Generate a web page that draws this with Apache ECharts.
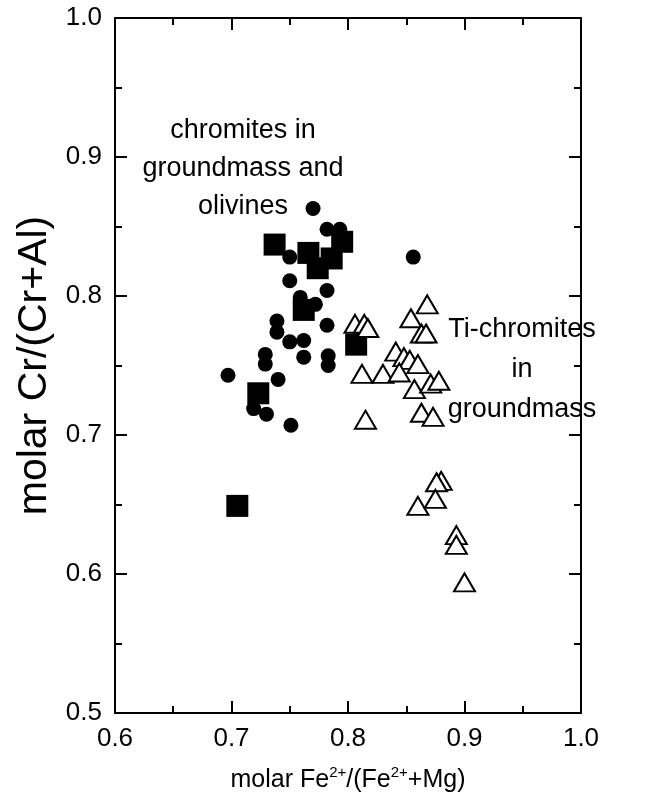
<!DOCTYPE html>
<html>
<head>
<meta charset="utf-8">
<script src="https://cdn.jsdelivr.net/npm/echarts@6/dist/echarts.min.js"></script>
<style>
  html, body { margin: 0; padding: 0; background: #fff; }
  #chart { width: 653px; height: 804px; }
</style>
</head>
<body>
<div id="chart"></div>
<script>
// Chromite compositions: molar Fe2+/(Fe2+ + Mg) vs molar Cr/(Cr + Al)
const circlePoints = [
  [0.770, 0.863], [0.782, 0.848], [0.793, 0.848], [0.750, 0.828],
  [0.750, 0.811], [0.782, 0.804], [0.759, 0.799], [0.772, 0.794],
  [0.739, 0.782], [0.782, 0.779], [0.739, 0.774], [0.750, 0.767],
  [0.762, 0.768], [0.729, 0.758], [0.729, 0.751], [0.762, 0.756],
  [0.783, 0.757], [0.783, 0.750], [0.697, 0.743], [0.740, 0.740],
  [0.719, 0.719], [0.730, 0.715], [0.751, 0.707], [0.856, 0.828]
];
const squarePoints = [
  [0.737, 0.837], [0.795, 0.839], [0.766, 0.831], [0.774, 0.820],
  [0.786, 0.827], [0.762, 0.790], [0.807, 0.765], [0.723, 0.730],
  [0.705, 0.649]
];
const trianglePoints = [
  [0.806, 0.780], [0.814, 0.780], [0.817, 0.777], [0.868, 0.794],
  [0.854, 0.784], [0.863, 0.773], [0.867, 0.773], [0.841, 0.760],
  [0.848, 0.756], [0.853, 0.754], [0.860, 0.751], [0.812, 0.744],
  [0.830, 0.744], [0.844, 0.745], [0.857, 0.733], [0.871, 0.737],
  [0.878, 0.739], [0.815, 0.711], [0.863, 0.716], [0.873, 0.713],
  [0.880, 0.667], [0.876, 0.666], [0.860, 0.649], [0.875, 0.654],
  [0.893, 0.628], [0.893, 0.621], [0.900, 0.594]
];
const xRange = [0.6, 1.0];
const yRange = [0.5, 1.0];
const tickStep = 0.1;

const FONT = '"Liberation Sans", Arial, Helvetica, sans-serif';
const black = '#000';

function frameAxis(position, range, withLabels) {
  return {
    type: 'value',
    position: position,
    min: range[0],
    max: range[1],
    interval: tickStep,
    axisLine: { show: true, onZero: false, lineStyle: { color: black, width: 2 } },
    axisTick: { show: true, inside: true, length: 12, lineStyle: { color: black, width: 2 } },
    minorTick: { show: true, splitNumber: 2, length: 7, lineStyle: { color: black, width: 2 } },
    splitLine: { show: false },
    minorSplitLine: { show: false },
    axisLabel: {
      show: withLabels,
      fontFamily: FONT,
      fontSize: 26,
      color: black,
      margin: 13,
      formatter: v => v.toFixed(1)
    }
  };
}

const xBottom = frameAxis('bottom', xRange, true);
xBottom.name = 'molar Fe{sup|2+}/(Fe{sup|2+}+Mg)';
xBottom.nameLocation = 'middle';
xBottom.nameGap = 52;
xBottom.nameTextStyle = {
  fontFamily: FONT, fontSize: 25, color: black, lineHeight: 30,
  rich: {
    sup: { fontFamily: FONT, fontSize: 15, color: black, lineHeight: 30, verticalAlign: 'top' }
  }
};
const xTop = frameAxis('top', xRange, false);

const yLeft = frameAxis('left', yRange, true);
yLeft.name = 'molar Cr/(Cr+Al)';
yLeft.nameLocation = 'middle';
yLeft.nameGap = 60;
yLeft.nameTextStyle = { fontFamily: FONT, fontSize: 41, color: black };
const yRight = frameAxis('right', yRange, false);

const chart = echarts.init(document.getElementById('chart'), null, { renderer: 'canvas' });
chart.setOption({
  backgroundColor: '#fff',
  animation: false,
  grid: { left: 115, right: 72, top: 18, bottom: 91, containLabel: false },
  xAxis: [xBottom, xTop],
  yAxis: [yLeft, yRight],
  graphic: [
    {
      type: 'text', x: 243, y: 169, z: 10,
      style: {
        text: 'chromites in\ngroundmass and\nolivines',
        font: '27px ' + FONT, fill: black,
        textAlign: 'center', textVerticalAlign: 'middle', lineHeight: 38
      }
    },
    {
      type: 'text', x: 522, y: 370, z: 10,
      style: {
        text: 'Ti-chromites\nin\ngroundmass',
        font: '27px ' + FONT, fill: black,
        textAlign: 'center', textVerticalAlign: 'middle', lineHeight: 40
      }
    }
  ],
  series: [
    {
      type: 'scatter', xAxisIndex: 0, yAxisIndex: 0,
      symbol: 'circle', symbolSize: 15,
      itemStyle: { color: black, opacity: 1 },
      data: circlePoints
    },
    {
      type: 'scatter', xAxisIndex: 0, yAxisIndex: 0,
      symbol: 'rect', symbolSize: 22,
      itemStyle: { color: black, opacity: 1 },
      data: squarePoints
    },
    {
      type: 'scatter', xAxisIndex: 0, yAxisIndex: 0,
      symbol: 'triangle', symbolSize: [21, 18],
      itemStyle: { color: '#fff', borderColor: black, borderWidth: 2, opacity: 1 },
      data: trianglePoints
    }
  ]
});
</script>
</body>
</html>
